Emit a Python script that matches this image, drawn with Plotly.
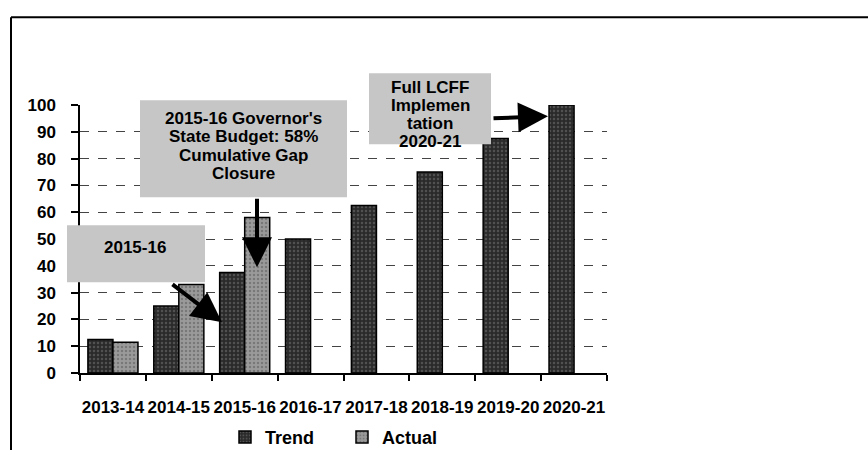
import plotly.graph_objects as go

categories = ["2013-14", "2014-15", "2015-16", "2016-17", "2017-18", "2018-19", "2019-20", "2020-21"]
trend = [12.5, 25, 37.5, 50, 62.5, 75, 87.5, 100]
actual = [11.5, 33, 58, None, None, None, None, None]
y_ticks = [0, 10, 20, 30, 40, 50, 60, 70, 80, 90, 100]

W, H = 868, 450
PL, PR, PT, PB = 80, 607, 104.7, 372.7


def px(x):
    return (x - PL) / (PR - PL)


def py(y):
    return (PB - y) / (PB - PT)


ARIAL = "Liberation Sans, Arial, sans-serif"

fig = go.Figure()
fig.add_trace(go.Bar(
    name="Trend", x=categories, y=trend,
    marker=dict(color="#333333", line=dict(color="#000000", width=1.5),
                pattern=dict(shape=".", fgcolor="#777777", bgcolor="#2a2a2a", size=4, solidity=0.3)),
))
fig.add_trace(go.Bar(
    name="Actual", x=categories, y=actual,
    marker=dict(color="#8a8a8a", line=dict(color="#000000", width=1.5),
                pattern=dict(shape=".", fgcolor="#555555", bgcolor="#9a9a9a", size=4, solidity=0.3)),
))

shapes = []
# outer frame lines
shapes.append(dict(type="line", xref="paper", yref="paper", x0=px(11), x1=px(868), y0=py(17), y1=py(17),
                   line=dict(color="#000", width=2)))
shapes.append(dict(type="line", xref="paper", yref="paper", x0=px(11), x1=px(11), y0=py(17), y1=py(450),
                   line=dict(color="#000", width=2)))
# callout boxes
for (x0, y0, x1, y1) in [(67, 225, 205, 282), (140, 100, 347, 197), (369, 73, 491, 144)]:
    shapes.append(dict(type="rect", xref="paper", yref="paper", x0=px(x0), x1=px(x1), y0=py(y1), y1=py(y0),
                       fillcolor="#c6c6c6", line=dict(width=0), layer="above"))

annotations = []
tfont = dict(family=ARIAL, size=17, color="#000", weight="bold")
texts = [
    ("2015-16", 135, 247),
    ("2015-16 Governor's", 243, 118),
    ("State Budget: 58%", 243, 136.5),
    ("Cumulative Gap", 243, 155),
    ("Closure", 243, 173.5),
    ("Full LCFF", 430, 87),
    ("Implemen", 430, 105),
    ("tation", 430, 123),
    ("2020-21", 430, 141),
]
for t, x, y in texts:
    annotations.append(dict(text=t, xref="paper", yref="paper", x=px(x), y=py(y), showarrow=False,
                            xanchor="center", yanchor="middle", font=tfont, borderpad=0))
# arrows (head, tail offset in px)
for (hx, hy, ax, ay) in [(222, 322, -51, -39), (257, 267, 0, -70), (548, 116, -56, 2)]:
    annotations.append(dict(text="", xref="paper", yref="paper", x=px(hx), y=py(hy), ax=ax, ay=ay,
                            showarrow=True, arrowhead=2, arrowsize=1.5, arrowwidth=4, arrowcolor="#000"))

fig.update_layout(
    width=W, height=H,
    margin=dict(l=PL, r=W - PR, t=PT, b=H - PB, autoexpand=False),
    paper_bgcolor="white", plot_bgcolor="white",
    barmode="group", bargap=0.24, bargroupgap=0,
    shapes=shapes, annotations=annotations,
    showlegend=True,
    legend=dict(orientation="h", x=px(225), y=py(437), xanchor="left", yanchor="middle",
                font=dict(family=ARIAL, size=18, color="#000", weight="bold"),
                entrywidth=72, entrywidthmode="pixels", bgcolor="rgba(0,0,0,0)"),
    xaxis=dict(type="category", showline=True, linecolor="#000", linewidth=2,
               ticks="outside", tickson="boundaries", ticklen=6, tickcolor="#000", tickwidth=1.5,
               tickangle=0,
               tickfont=dict(family=ARIAL, size=17, color="#000", weight="bold"),
               ticklabelstandoff=18, showgrid=False),
    yaxis=dict(range=[0, 100], tickvals=y_ticks, showline=True, linecolor="#000", linewidth=1.5,
               ticks="outside", ticklen=7, tickcolor="#000", tickwidth=1.5,
               tickfont=dict(family=ARIAL, size=17, color="#000", weight="bold"),
               ticklabelstandoff=12,
               showgrid=True, gridcolor="#444", griddash="dash", gridwidth=1, zeroline=False),
)

fig.write_html("out.html", config={"displayModeBar": False},
               post_script="document.body.style.margin='0';document.body.style.overflow='hidden';")
